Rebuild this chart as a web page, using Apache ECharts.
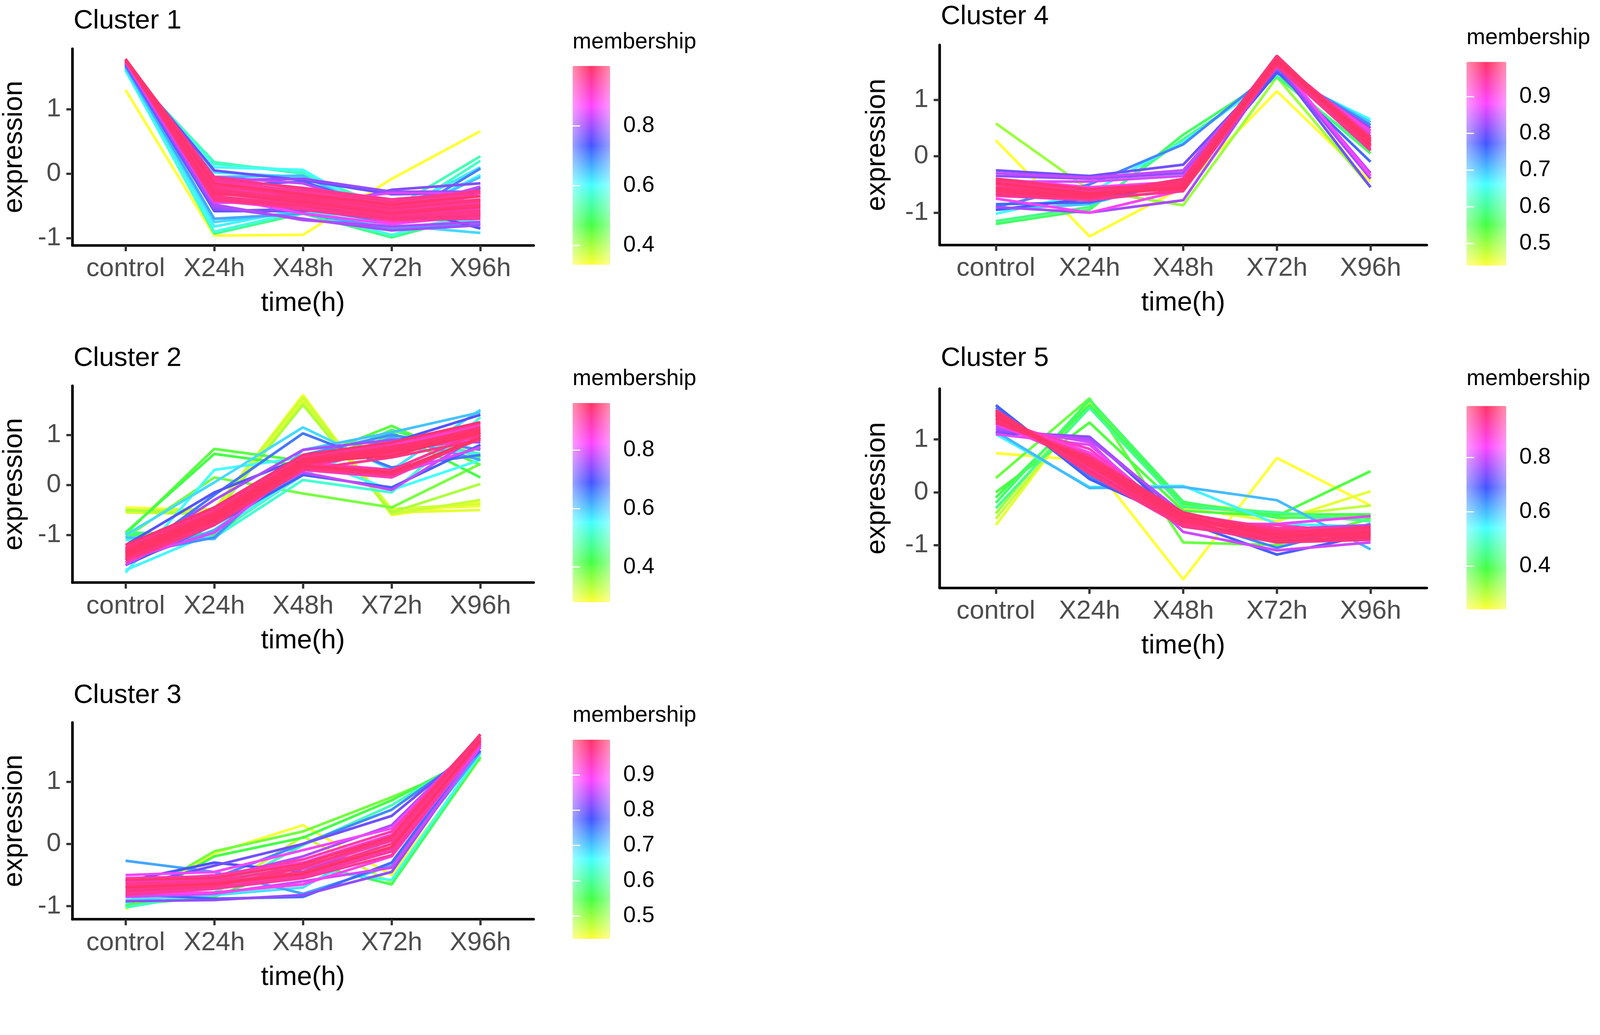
<!DOCTYPE html>
<html>
<head>
<meta charset="utf-8">
<title>Mfuzz clusters</title>
<script src="https://cdn.jsdelivr.net/npm/echarts@6/dist/echarts.min.js"></script>
<style>
html, body { margin: 0; padding: 0; background: #fff; overflow: hidden; }
#chart { width: 100vw; height: 100vh; }
</style>
</head>
<body>
<div id="chart"></div>
<script>
// x categories and tick labels
var categories = ["control", "X24h", "X48h", "X72h", "X96h"];
var exprTicks = [-1, 0, 1];

// cluster 1: expression per gene (control, X24h, X48h, X72h, X96h) and membership
var c1Lines = [
    [1.30, -0.96, -0.95, -0.08, 0.66],
    [1.62, -0.93, -0.62, -0.99, -0.62],
    [1.63, 0.18, 0.00, -0.55, 0.27],
    [1.64, 0.15, 0.04, -0.68, 0.20],
    [1.60, -0.90, -0.58, -0.95, -0.58],
    [1.65, 0.10, 0.06, -0.72, -0.02],
    [1.62, -0.82, -0.55, -0.88, -0.70],
    [1.66, 0.02, -0.05, -0.62, 0.10],
    [1.64, -0.75, -0.60, -0.80, -0.92],
    [1.66, -0.05, -0.03, -0.70, -0.05],
    [1.67, -0.70, -0.62, -0.85, -0.78],
    [1.68, -0.58, -0.55, -0.75, 0.08],
    [1.69, -0.20, -0.12, -0.58, -0.22],
    [1.70, -0.58, -0.58, -0.48, -0.85],
    [1.71, 0.05, -0.10, -0.32, -0.30],
    [1.71, -0.56, -0.58, -0.25, -0.15],
    [1.72, -0.10, -0.08, -0.28, -0.28],
    [1.72, -0.52, -0.70, -0.88, -0.80],
    [1.73, -0.48, -0.72, -0.82, -0.75],
    [1.72, -0.05, -0.15, -0.58, -0.20],
    [1.73, -0.45, -0.45, -0.30, -0.30],
    [1.74, -0.35, -0.62, -0.78, -0.65],
    [1.74, -0.15, -0.30, -0.72, -0.30],
    [1.75, -0.42, -0.55, -0.48, -0.60],
    [1.74, -0.25, -0.40, -0.68, -0.40],
    [1.75, -0.38, -0.50, -0.75, -0.68],
    [1.75, -0.12, -0.30, -0.50, -0.35],
    [1.76, -0.30, -0.45, -0.62, -0.55],
    [1.76, -0.20, -0.38, -0.55, -0.45],
    [1.76, -0.42, -0.52, -0.70, -0.62],
    [1.77, -0.10, -0.28, -0.48, -0.30],
    [1.77, -0.28, -0.42, -0.58, -0.50],
    [1.77, -0.35, -0.48, -0.66, -0.58],
    [1.78, -0.18, -0.35, -0.52, -0.40],
    [1.78, -0.25, -0.40, -0.60, -0.48],
    [1.78, -0.40, -0.50, -0.70, -0.65],
    [1.77, -0.30, -0.44, -0.62, -0.52],
    [1.78, -0.15, -0.32, -0.48, -0.35],
    [1.77, -0.05, -0.24, -0.44, -0.26],
    [1.76, -0.36, -0.56, -0.72, -0.70],
    [1.76, -0.22, -0.46, -0.66, -0.60],
    [1.75, -0.32, -0.36, -0.54, -0.42],
    [1.78, -0.08, -0.22, -0.40, -0.28]
];
var c1Member = [0.335, 0.52, 0.55, 0.56, 0.58, 0.60, 0.61, 0.62, 0.63, 0.65, 0.67, 0.70, 0.72, 0.74, 0.76, 0.78, 0.79,
    0.80, 0.81, 0.82, 0.84, 0.86, 0.88, 0.89, 0.90, 0.91, 0.92, 0.93, 0.94, 0.95, 0.95, 0.96, 0.97, 0.97, 0.98, 0.98,
    0.99, 0.995, 0.97, 0.96, 0.97, 0.98, 0.96];
var c1Range = [0.335, 1.0];
var c1Ticks = [0.4, 0.6, 0.8];

// cluster 2
var c2Lines = [
    [-0.45, -0.50, 1.80, -0.60, -0.35],
    [-0.50, -0.55, 1.74, -0.50, -0.42],
    [-0.48, -0.52, 1.70, -0.55, -0.50],
    [-0.55, -0.58, 1.65, -0.48, -0.38],
    [-0.52, -0.48, 1.76, -0.58, -0.30],
    [-0.50, -0.60, 1.60, -0.55, 0.02],
    [-1.05, 0.15, -0.17, -0.45, 0.42],
    [-0.98, 0.72, 0.48, 1.18, 0.40],
    [-0.95, 0.62, 0.38, 1.05, 0.15],
    [-1.00, -1.02, 0.30, 1.10, 0.55],
    [-0.95, -0.98, 0.20, 1.00, 0.62],
    [-1.10, -1.05, 0.10, -0.15, 1.35],
    [-1.75, 0.30, 0.55, -0.10, 0.50],
    [-1.70, -0.95, 0.20, 0.90, 0.60],
    [-1.00, 0.05, 1.15, 0.30, 1.50],
    [-1.05, -1.08, 0.70, 1.05, 1.45],
    [-1.55, -0.90, 0.30, 0.95, 0.50],
    [-1.40, -1.05, 0.60, 1.00, 0.70],
    [-1.50, -0.20, 1.03, 0.35, 0.60],
    [-1.60, -0.80, 0.20, -0.05, 0.80],
    [-1.20, -0.15, 0.55, 0.85, 1.40],
    [-1.30, -0.75, 0.35, 0.85, 1.25],
    [-1.45, -0.30, 0.70, 0.90, 0.85],
    [-1.60, -0.65, 0.25, -0.10, 1.00],
    [-1.50, -0.95, 0.40, 0.20, 0.75],
    [-1.25, -0.45, 0.55, 0.75, 1.15],
    [-1.35, -0.55, 0.45, 0.30, 1.05],
    [-1.45, -0.70, 0.35, 0.70, 0.90],
    [-1.30, -0.60, 0.60, 0.80, 1.20],
    [-1.55, -0.80, 0.30, 0.15, 0.95],
    [-1.35, -0.62, 0.45, 0.62, 1.00],
    [-1.45, -0.75, 0.35, 0.70, 1.10],
    [-1.25, -0.50, 0.55, 0.78, 0.95],
    [-1.40, -0.68, 0.40, 0.30, 1.05],
    [-1.50, -0.80, 0.30, 0.55, 0.90],
    [-1.30, -0.58, 0.50, 0.72, 1.15],
    [-1.38, -0.65, 0.42, 0.65, 1.02],
    [-1.20, -0.45, 0.60, 0.85, 1.25],
    [-1.42, -0.72, 0.38, 0.25, 0.95],
    [-1.33, -0.60, 0.48, 0.68, 1.08],
    [-1.28, -0.55, 0.52, 0.75, 1.12],
    [-1.48, -0.78, 0.33, 0.20, 0.92],
    [-1.36, -0.66, 0.46, 0.58, 1.05]
];
var c2Member = [0.28, 0.29, 0.30, 0.31, 0.32, 0.34, 0.38, 0.40, 0.42, 0.44, 0.46, 0.52, 0.55, 0.56, 0.58, 0.60,
    0.62, 0.64, 0.66, 0.68, 0.70, 0.74, 0.76, 0.78, 0.80, 0.82, 0.84, 0.86, 0.88, 0.89,
    0.90, 0.91, 0.92, 0.92, 0.93, 0.94, 0.95, 0.95, 0.96, 0.96, 0.95, 0.94, 0.96];
var c2Range = [0.28, 0.96];
var c2Ticks = [0.4, 0.6, 0.8];

// cluster 3
var c3Lines = [
    [-1.05, -0.15, 0.30, -0.50, 1.40],
    [-1.00, -0.80, 0.12, -0.62, 1.38],
    [-0.95, -0.12, 0.20, 0.75, 1.35],
    [-1.00, -0.20, 0.10, 0.70, 1.45],
    [-0.98, -0.85, -0.30, -0.65, 1.40],
    [-1.02, -0.78, -0.02, 0.62, 1.50],
    [-0.95, -0.55, -0.40, -0.58, 1.45],
    [-0.90, -0.82, -0.70, 0.10, 1.55],
    [-0.27, -0.45, -0.80, -0.35, 1.48],
    [-0.85, -0.55, 0.00, 0.55, 1.55],
    [-0.80, -0.88, -0.85, -0.30, 1.60],
    [-0.60, -0.30, -0.45, 0.10, 1.50],
    [-0.70, -0.35, 0.00, 0.45, 1.62],
    [-0.92, -0.90, -0.82, -0.45, 1.58],
    [-0.55, -0.55, -0.20, 0.30, 1.70],
    [-0.85, -0.80, -0.60, -0.38, 1.55],
    [-0.50, -0.45, -0.10, 0.25, 1.72],
    [-0.80, -0.78, -0.65, -0.20, 1.60],
    [-0.62, -0.50, -0.30, 0.15, 1.68],
    [-0.60, -0.58, -0.40, 0.05, 1.70],
    [-0.72, -0.65, -0.50, -0.08, 1.65],
    [-0.55, -0.52, -0.25, 0.20, 1.75],
    [-0.82, -0.72, -0.55, -0.18, 1.62],
    [-0.66, -0.62, -0.45, 0.00, 1.68],
    [-0.75, -0.68, -0.38, 0.10, 1.72],
    [-0.58, -0.55, -0.32, 0.12, 1.76],
    [-0.70, -0.64, -0.48, -0.05, 1.66],
    [-0.64, -0.60, -0.36, 0.06, 1.70],
    [-0.78, -0.70, -0.52, -0.12, 1.64]
];
var c3Member = [0.44, 0.47, 0.52, 0.55, 0.56, 0.62, 0.65, 0.68, 0.72, 0.74, 0.76, 0.78, 0.80, 0.82, 0.84, 0.86,
    0.88, 0.90, 0.91, 0.93, 0.94, 0.95, 0.96, 0.97, 0.98, 0.99, 1.0, 0.97, 0.96];
var c3Range = [0.435, 1.0];
var c3Ticks = [0.5, 0.6, 0.7, 0.8, 0.9];

// cluster 4
var c4Lines = [
    [0.28, -1.42, -0.55, 1.15, -0.45],
    [0.58, -0.60, -0.87, 1.40, -0.55],
    [-1.20, -0.95, 0.38, 1.45, 0.05],
    [-1.15, -0.90, 0.30, 1.40, 0.10],
    [-1.02, -0.65, 0.25, 1.45, 0.65],
    [-0.95, -0.85, -0.40, 1.50, 0.60],
    [-0.90, -0.50, 0.21, 1.55, 0.55],
    [-0.85, -0.82, -0.45, 1.50, -0.10],
    [-0.95, -0.75, -0.50, 1.48, 0.45],
    [-0.25, -0.35, -0.15, 1.60, -0.55],
    [-0.35, -0.40, -0.30, 1.55, 0.50],
    [-0.90, -1.00, -0.78, 1.62, -0.40],
    [-0.30, -0.38, -0.25, 1.65, -0.30],
    [-0.45, -0.45, -0.35, 1.58, 0.40],
    [-0.40, -0.55, -0.45, 1.70, -0.35],
    [-0.75, -1.00, -0.60, 1.65, 0.30],
    [-0.55, -0.60, -0.50, 1.62, 0.45],
    [-0.45, -0.62, -0.55, 1.70, 0.30],
    [-0.60, -0.70, -0.45, 1.75, 0.15],
    [-0.70, -0.78, -0.60, 1.68, 0.25],
    [-0.50, -0.65, -0.50, 1.72, 0.35],
    [-0.65, -0.75, -0.62, 1.60, 0.10],
    [-0.55, -0.68, -0.40, 1.78, 0.20],
    [-0.40, -0.58, -0.48, 1.65, 0.32],
    [-0.62, -0.72, -0.52, 1.73, 0.18],
    [-0.48, -0.66, -0.58, 1.70, 0.28],
    [-0.58, -0.70, -0.56, 1.68, 0.22],
    [-0.68, -0.74, -0.44, 1.74, 0.26],
    [-0.44, -0.60, -0.52, 1.66, 0.12]
];
var c4Member = [0.44, 0.50, 0.57, 0.59, 0.66, 0.70, 0.74, 0.76, 0.78, 0.80, 0.82, 0.83, 0.85, 0.86, 0.88, 0.89,
    0.91, 0.93, 0.94, 0.95, 0.96, 0.97, 0.98, 0.985, 0.99, 0.995, 0.99, 0.98, 0.97];
var c4Range = [0.44, 0.995];
var c4Ticks = [0.5, 0.6, 0.7, 0.8, 0.9];

// cluster 5
var c5Lines = [
    [0.74, 0.60, -1.65, 0.65, -0.25],
    [-0.62, 1.72, -0.30, -0.55, 0.02],
    [-0.50, 1.68, -0.25, -0.45, -0.25],
    [-0.40, 1.75, -0.20, -0.40, -0.45],
    [0.27, 1.78, -0.95, -1.00, -0.50],
    [0.00, 1.32, -0.35, -0.45, 0.40],
    [-0.10, 1.65, -0.22, -0.42, -0.42],
    [-0.20, 1.75, -0.18, -0.48, -0.48],
    [-0.30, 1.60, -0.28, -0.38, -0.55],
    [1.10, 0.10, 0.12, -0.60, -0.65],
    [1.15, 0.08, 0.10, -0.15, -1.08],
    [1.60, 0.30, -0.50, -1.05, -0.60],
    [1.65, 0.25, -0.55, -1.18, -0.80],
    [1.12, 1.05, -0.55, -0.95, -0.70],
    [1.15, 1.05, -0.45, -0.85, -0.75],
    [1.20, 1.00, -0.40, -0.70, -0.62],
    [1.25, 0.95, -0.75, -1.10, -0.95],
    [1.10, 0.90, -0.60, -0.60, -0.45],
    [1.40, 0.75, -0.45, -0.70, -0.85],
    [1.30, 0.55, -0.65, -0.85, -0.70],
    [1.35, 0.82, -0.55, -0.62, -0.78],
    [1.45, 0.60, -0.50, -0.75, -0.75],
    [1.50, 0.45, -0.60, -0.85, -0.82],
    [1.35, 0.70, -0.42, -0.68, -0.68],
    [1.55, 0.35, -0.65, -0.90, -0.88],
    [1.40, 0.55, -0.48, -0.80, -0.72],
    [1.48, 0.40, -0.58, -0.72, -0.80],
    [1.32, 0.65, -0.38, -0.78, -0.65],
    [1.52, 0.50, -0.55, -0.92, -0.85],
    [1.42, 0.58, -0.45, -0.82, -0.76],
    [1.46, 0.52, -0.50, -0.86, -0.80],
    [1.38, 0.62, -0.40, -0.74, -0.70],
    [1.56, 0.42, -0.62, -0.95, -0.90]
];
var c5Member = [0.24, 0.26, 0.29, 0.32, 0.36, 0.38, 0.40, 0.42, 0.45, 0.55, 0.60, 0.65, 0.68, 0.70, 0.75, 0.78,
    0.80, 0.82, 0.86, 0.88, 0.90, 0.92, 0.93, 0.94, 0.95, 0.96, 0.97, 0.98, 0.985, 0.99, 0.98, 0.97, 0.96];
var c5Range = [0.24, 0.99];
var c5Ticks = [0.4, 0.6, 0.8];

var palette = ["#ffff33", "#44ff44", "#44ffff", "#4455ff", "#ff44ff", "#ff3366"];
var font = "Liberation Sans";

window.onload = function() {
    var dom = document.getElementById("chart");
    // layout below is in reference pixels (4267 wide); scale to the real viewport
    var s = dom.clientWidth / 4267;
    function P(v) { return v * s; }

    var panels = [
        {name: "Cluster 1", lines: c1Lines, member: c1Member, range: c1Range, ticks: c1Ticks,
         left: 193, top: 130, width: 1230, height: 524, yMin: -1.11, yMax: 1.94, titleY: 52, yGap: 118,
         barLeft: 1527, barTop: 176, barW: 100, barH: 530, legendY: 112},
        {name: "Cluster 2", lines: c2Lines, member: c2Member, range: c2Range, ticks: c2Ticks,
         left: 193, top: 1029, width: 1230, height: 525, yMin: -1.95, yMax: 1.98, titleY: 952, yGap: 118,
         barLeft: 1527, barTop: 1075, barW: 100, barH: 531, legendY: 1010},
        {name: "Cluster 3", lines: c3Lines, member: c3Member, range: c3Range, ticks: c3Ticks,
         left: 193, top: 1927, width: 1230, height: 525, yMin: -1.21, yMax: 1.95, titleY: 1851, yGap: 118,
         barLeft: 1527, barTop: 1973, barW: 100, barH: 531, legendY: 1908},
        {name: "Cluster 4", lines: c4Lines, member: c4Member, range: c4Range, ticks: c4Ticks,
         left: 2506, top: 120, width: 1299, height: 533, yMin: -1.57, yMax: 1.97, titleY: 41, yGap: 130,
         barLeft: 3911, barTop: 165, barW: 106, barH: 543, legendY: 101},
        {name: "Cluster 5", lines: c5Lines, member: c5Member, range: c5Range, ticks: c5Ticks,
         left: 2506, top: 1037, width: 1299, height: 531, yMin: -1.81, yMax: 1.96, titleY: 952, yGap: 130,
         barLeft: 3911, barTop: 1083, barW: 106, barH: 542, legendY: 1010}
    ];

    var option = {
        animation: false,
        backgroundColor: "#fff",
        textStyle: {fontFamily: font},
        title: [], grid: [], xAxis: [], yAxis: [], visualMap: [], series: [], graphic: []
    };

    panels.forEach(function(p, k) {
        option.title.push({
            text: p.name, left: P(p.left + 3), top: P(p.titleY - 32), padding: 0,
            textStyle: {fontSize: P(72), fontWeight: "normal", color: "#000", fontFamily: font}
        });
        option.title.push({
            text: "membership", left: P(p.barLeft), top: P(p.legendY - 30), padding: 0,
            textStyle: {fontSize: P(60), fontWeight: "normal", color: "#000", fontFamily: font}
        });
        option.grid.push({left: P(p.left), top: P(p.top), width: P(p.width), height: P(p.height)});
        option.xAxis.push({
            type: "value", gridIndex: k, min: 0.4, max: 5.6,
            name: "time(h)", nameLocation: "middle", nameGap: P(119),
            nameTextStyle: {fontSize: P(72), color: "#000", fontFamily: font},
            axisLine: {onZero: false, lineStyle: {color: "#000", width: P(7)}},
            axisTick: {customValues: [1, 2, 3, 4, 5], length: P(16), lineStyle: {color: "#333", width: P(6)}},
            axisLabel: {
                customValues: [1, 2, 3, 4, 5], fontSize: P(70), color: "#4d4d4d", margin: P(28),
                formatter: function(v) { return categories[Math.round(v) - 1]; }
            },
            splitLine: {show: false}
        });
        option.yAxis.push({
            type: "value", gridIndex: k, min: p.yMin, max: p.yMax,
            name: "expression", nameLocation: "middle", nameGap: P(p.yGap),
            nameTextStyle: {fontSize: P(73), color: "#000", fontFamily: font},
            axisLine: {show: true, onZero: false, lineStyle: {color: "#000", width: P(7)}},
            axisTick: {show: true, customValues: exprTicks, length: P(16), lineStyle: {color: "#333", width: P(6)}},
            axisLabel: {customValues: exprTicks, fontSize: P(70), color: "#4d4d4d", margin: P(30)},
            splitLine: {show: false}
        });

        // low membership first, so the best members sit on top
        var order = p.member.map(function(m, i) { return i; });
        order.sort(function(a, b) { return p.member[a] - p.member[b]; });
        order.forEach(function(i) {
            var t = (p.member[i] - p.range[0]) / (p.range[1] - p.range[0]);
            t = Math.max(0, Math.min(1, t));
            option.series.push({
                type: "line", xAxisIndex: k, yAxisIndex: k, silent: true,
                symbol: "none", showSymbol: false,
                lineStyle: {width: P(7), color: echarts.color.lerp(t, palette)},
                data: p.lines[i].map(function(v, j) { return [j + 1, v]; })
            });
        });
    });

    // colour bars: visualMap gradient + a bare axis over it for ticks and labels
    panels.forEach(function(p, k) {
        option.visualMap.push({
            type: "continuous", seriesIndex: [], min: p.range[0], max: p.range[1],
            left: P(p.barLeft), top: P(p.barTop), itemWidth: P(p.barW), itemHeight: P(p.barH),
            calculable: false, padding: 0, inRange: {color: palette}
        });
        // soft white edges, like the blurred raster bar of the original
        option.graphic.push({
            type: "rect", z: 6, silent: true,
            shape: {x: P(p.barLeft), y: P(p.barTop), width: P(p.barW), height: P(p.barH)},
            style: {fill: new echarts.graphic.LinearGradient(0, 0, 1, 0, [
                {offset: 0, color: "rgba(255,255,255,0.45)"},
                {offset: 0.5, color: "rgba(255,255,255,0)"},
                {offset: 1, color: "rgba(255,255,255,0.45)"}
            ])}
        });
        var g = panels.length + k;
        option.grid.push({left: P(p.barLeft), top: P(p.barTop), width: P(p.barW), height: P(p.barH)});
        option.xAxis.push({type: "value", gridIndex: g, min: 0, max: 1, show: false});
        option.yAxis.push({
            type: "value", gridIndex: g, position: "right", min: p.range[0], max: p.range[1], z: 10,
            axisLine: {show: false},
            axisTick: {show: true, inside: true, customValues: p.ticks, length: P(20), lineStyle: {color: "#fff", width: P(3)}},
            axisLabel: {customValues: p.ticks, fontSize: P(60), color: "#000", margin: P(35),
                formatter: function(v) { return v.toFixed(1); }},
            splitLine: {show: false}
        });
        option.yAxis.push({
            type: "value", gridIndex: g, position: "left", min: p.range[0], max: p.range[1], z: 10,
            axisLine: {show: false},
            axisTick: {show: true, inside: true, customValues: p.ticks, length: P(20), lineStyle: {color: "#fff", width: P(3)}},
            axisLabel: {show: false},
            splitLine: {show: false}
        });
    });

    var chart = echarts.init(dom);
    chart.setOption(option);
};
</script>
</body>
</html>
